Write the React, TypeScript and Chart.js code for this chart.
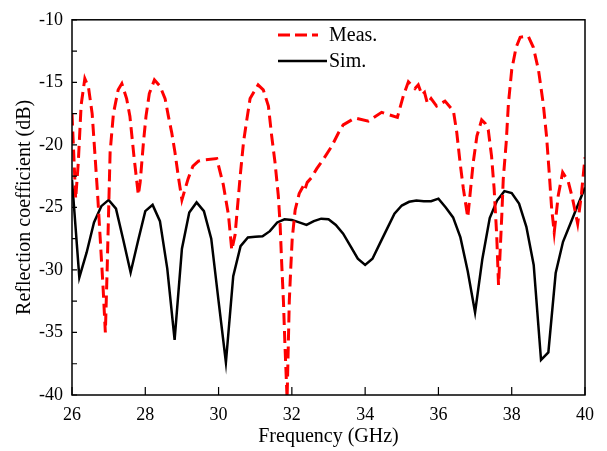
import React, { useEffect, useRef } from "react";
import { Chart, registerables } from "chart.js";

Chart.register(...registerables);

// Simulated reflection coefficient (dB)
const simFreq = [
  26.0, 26.2, 26.4, 26.6, 26.8, 27.0, 27.2, 27.4, 27.6, 27.8,
  28.0, 28.2, 28.4, 28.6, 28.8, 29.0, 29.2, 29.4, 29.6, 29.8,
  30.0, 30.2, 30.4, 30.6, 30.8, 31.0, 31.2, 31.4, 31.6, 31.8,
  32.0, 32.2, 32.4, 32.6, 32.8, 33.0, 33.2, 33.4, 33.6, 33.8,
  34.0, 34.2, 34.4, 34.6, 34.8, 35.0, 35.2, 35.4, 35.6, 35.8,
  36.0, 36.2, 36.4, 36.6, 36.8, 37.0, 37.2, 37.4, 37.6, 37.8,
  38.0, 38.2, 38.4, 38.6, 38.8, 39.0, 39.2, 39.4, 39.6, 39.8,
  40.0,
];
const simS11 = [
  -22.8, -30.6, -28.6, -26.2, -24.9, -24.4, -25.1, -27.6, -30.2, -27.7,
  -25.3, -24.8, -26.1, -29.9, -35.6, -28.3, -25.4, -24.6, -25.3, -27.5,
  -32.5, -37.4, -30.5, -28.1, -27.4, -27.35, -27.3, -26.9, -26.2, -25.95,
  -26.0, -26.2, -26.4, -26.1, -25.9, -25.95, -26.4, -27.1, -28.1, -29.1,
  -29.6, -29.1, -27.9, -26.7, -25.5, -24.85, -24.55, -24.45, -24.5, -24.5,
  -24.3, -25.0, -25.8, -27.4, -30.1, -33.4, -29.1, -25.85, -24.45, -23.7,
  -23.85, -24.7, -26.55, -29.6, -37.2, -36.6, -30.25, -27.75, -26.3, -24.85,
  -23.4,
];

// Measured reflection coefficient (dB)
const measFreq = [
  26.0, 26.1, 26.17, 26.25, 26.35, 26.45, 26.55, 26.62, 26.7, 26.78,
  26.85, 26.91, 26.96, 27.04, 27.13, 27.26, 27.36, 27.49, 27.58, 27.69,
  27.81, 27.86, 27.95, 28.02, 28.11, 28.25, 28.4, 28.54, 28.63, 28.72,
  28.81, 28.9, 29.0, 29.17, 29.3, 29.45, 29.6, 29.95, 30.13, 30.27,
  30.36, 30.45, 30.59, 30.68, 30.77, 30.86, 31.08, 31.22, 31.36, 31.45,
  31.54, 31.63, 31.68, 31.72, 31.77, 31.81, 31.87, 31.9, 31.93, 31.97,
  32.01, 32.09, 32.2, 32.31, 32.35, 32.42, 32.54, 32.68, 32.86, 33.09,
  33.27, 33.4, 33.72, 34.09, 34.45, 34.88, 35.04, 35.18, 35.36, 35.45,
  35.55, 35.62, 35.7, 35.8, 35.95, 36.18, 36.41, 36.5, 36.59, 36.68,
  36.8, 36.86, 36.95, 37.05, 37.18, 37.28, 37.36, 37.45, 37.52, 37.59,
  37.64, 37.68, 37.73, 37.77, 37.85, 37.91, 38.0, 38.12, 38.23, 38.45,
  38.59, 38.73, 38.86, 38.95, 39.03, 39.09, 39.16, 39.27, 39.39, 39.54,
  39.66, 39.8, 39.9, 40.0,
];
const measS11 = [
  -17.5, -24.3, -21.5, -16.8, -14.7, -15.4, -17.5, -20.5, -24.0, -28.0,
  -31.5, -35.0, -29.9, -20.6, -17.5, -15.6, -15.1, -16.3, -17.7, -20.9,
  -24.0, -23.0, -19.8, -17.7, -15.9, -14.8, -15.3, -16.3, -17.7, -19.0,
  -20.6, -22.5, -24.4, -22.7, -21.7, -21.3, -21.2, -21.1, -23.2, -25.6,
  -28.4, -27.2, -22.5, -19.8, -18.0, -16.3, -15.2, -15.6, -16.9, -19.3,
  -21.4, -24.05, -26.4, -29.3, -32.5, -35.9, -40.3, -36.4, -32.5, -29.85,
  -27.5, -25.2, -23.9, -23.3, -23.6, -23.0, -22.6, -21.9, -21.15, -20.1,
  -19.05, -18.4, -17.85, -18.1, -17.4, -17.8, -16.1, -14.95, -15.5, -15.2,
  -16.0, -15.8, -16.7, -16.3, -16.9, -16.5, -17.3, -19.0, -21.4, -23.5,
  -25.8, -24.05, -21.4, -19.3, -18.0, -18.3, -18.8, -20.9, -23.5, -27.2,
  -31.2, -28.8, -25.6, -22.7, -19.8, -16.7, -14.0, -12.2, -11.4, -11.3,
  -12.2, -14.0, -16.7, -19.3, -22.5, -25.1, -27.0, -24.05, -22.2, -22.9,
  -24.3, -26.3, -24.0, -21.0,
];

const xTicks = [26, 28, 30, 32, 34, 36, 38, 40];
const yTicks = [-40, -35, -30, -25, -20, -15, -10];
const yMinorTicks = [-37.5, -32.5, -27.5, -22.5, -17.5, -12.5];
const seriesLabels = ["Meas.", "Sim."];
const xTitle = "Frequency (GHz)";
const yTitle = "Reflection coefficient (dB)";

const FONT = "'Liberation Serif', 'Times New Roman', serif";

const framePlugin = {
  id: "framePlugin",
  afterDraw(chart: any) {
    const { ctx, chartArea, scales } = chart;
    const { left, right, top, bottom } = chartArea;
    const x = scales.x;
    const y = scales.y;
    ctx.save();
    ctx.strokeStyle = "#000";
    ctx.lineWidth = 1.5;
    ctx.strokeRect(left, top, right - left, bottom - top);
    ctx.lineWidth = 1.2;
    ctx.beginPath();
    xTicks.forEach((v) => {
      const px = x.getPixelForValue(v);
      ctx.moveTo(px, bottom);
      ctx.lineTo(px, bottom - 8);
    });
    [...yTicks, ...yMinorTicks].forEach((v) => {
      const py = y.getPixelForValue(v);
      ctx.moveTo(left, py);
      ctx.lineTo(left + 5, py);
    });
    ctx.stroke();

    // legend
    const lx0 = 278;
    const rows = [
      { y: 35, color: "#ff0000", dash: [12, 5], width: 3, x1: 318 },
      { y: 61, color: "#000000", dash: [], width: 2.5, x1: 327 },
    ];
    ctx.font = `20px ${FONT}`;
    ctx.textBaseline = "middle";
    ctx.textAlign = "left";
    rows.forEach((r, i) => {
      ctx.beginPath();
      ctx.setLineDash(r.dash);
      ctx.strokeStyle = r.color;
      ctx.lineWidth = r.width;
      ctx.moveTo(lx0, r.y);
      ctx.lineTo(r.x1, r.y);
      ctx.stroke();
      ctx.setLineDash([]);
      ctx.fillStyle = "#000";
      ctx.fillText(seriesLabels[i], 329, r.y + 1);
    });
    ctx.restore();
  },
};

export default function App() {
  const canvasRef = useRef<HTMLCanvasElement | null>(null);

  useEffect(() => {
    if (!canvasRef.current) return;
    const chart = new Chart(canvasRef.current, {
      type: "line",
      data: {
        datasets: [
          {
            label: seriesLabels[0],
            data: measFreq.map((f, i) => ({ x: f, y: measS11[i] })),
            borderColor: "#ff0000",
            borderWidth: 3,
            borderDash: [12, 6],
            pointRadius: 0,
            tension: 0,
            fill: false,
          },
          {
            label: seriesLabels[1],
            data: simFreq.map((f, i) => ({ x: f, y: simS11[i] })),
            borderColor: "#000000",
            borderWidth: 2.5,
            pointRadius: 0,
            tension: 0,
            fill: false,
          },
        ],
      },
      options: {
        animation: false,
        responsive: false,
        layout: { padding: { top: 16, right: 22, left: 0, bottom: 0 } },
        plugins: {
          legend: { display: false },
          tooltip: { enabled: false },
        },
        scales: {
          x: {
            type: "linear",
            min: 26,
            max: 40,
            afterFit: (s: any) => {
              s.height = 56;
            },
            afterBuildTicks: (s: any) => {
              s.ticks = xTicks.map((v) => ({ value: v }));
            },
            grid: { display: false, drawTicks: false },
            border: { display: false },
            ticks: {
              color: "#000",
              padding: 9,
              maxRotation: 0,
              font: { family: FONT, size: 18 },
            },
            title: {
              display: true,
              text: xTitle,
              color: "#000",
              font: { family: FONT, size: 20 },
              padding: { top: 0, bottom: 2 },
            },
          },
          y: {
            type: "linear",
            min: -40,
            max: -10,
            afterFit: (s: any) => {
              s.width = 72;
            },
            afterBuildTicks: (s: any) => {
              s.ticks = yTicks.map((v) => ({ value: v }));
            },
            grid: { display: false, drawTicks: false },
            border: { display: false },
            ticks: {
              color: "#000",
              padding: 9,
              font: { family: FONT, size: 18 },
            },
            title: {
              display: true,
              text: yTitle,
              color: "#000",
              font: { family: FONT, size: 20 },
              padding: { top: 13, bottom: 0 },
            },
          },
        },
      },
      plugins: [framePlugin],
    });
    return () => chart.destroy();
  }, []);

  return (
    <div style={{ position: "fixed", left: 0, top: 0, width: 607, height: 451, background: "#fff" }}>
      <canvas ref={canvasRef} width={607} height={451} style={{ display: "block" }} />
    </div>
  );
}
